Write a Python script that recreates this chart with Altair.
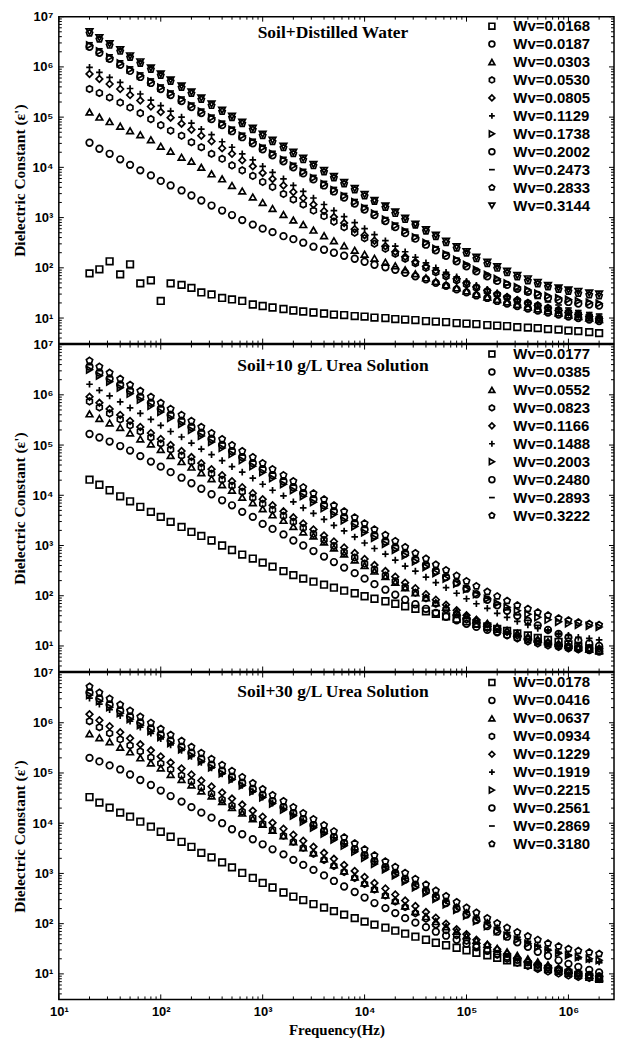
import altair as alt
import pandas as pd

# ---------------- data (log10 of dielectric constant) ----------------
FREQ_HZ = [20, 25, 31.5, 40, 50, 63, 80, 100, 125, 160,
           200, 250, 315, 400, 500, 630, 800, 1000, 1250, 1600,
           2000, 2500, 3150, 4000, 5000, 6300, 8000, 10000, 12500, 16000,
           20000, 25000, 31500, 40000, 50000, 63000, 80000, 100000, 125000, 160000,
           200000, 250000, 315000, 400000, 500000, 630000, 800000, 1000000, 1250000, 1600000,
           2000000]

# Panel 1: Soil + Distilled Water
DW_0168 = [1.89, 1.97, 2.13, 1.87, 2.07, 1.69, 1.75, 1.34, 1.69, 1.66, 1.60, 1.51, 1.47, 1.40, 1.37, 1.34, 1.27,
           1.24, 1.21, 1.18, 1.15, 1.13, 1.11, 1.09, 1.07, 1.06, 1.04, 1.03, 1.01, 1.00, 0.98, 0.97, 0.96, 0.94,
           0.93, 0.92, 0.90, 0.89, 0.88, 0.86, 0.85, 0.84, 0.82, 0.81, 0.80, 0.78, 0.77, 0.75, 0.74, 0.72, 0.70]
DW_0187 = [4.49, 4.37, 4.27, 4.16, 4.05, 3.94, 3.84, 3.73, 3.64, 3.54, 3.44, 3.34, 3.24, 3.14, 3.05, 2.95, 2.86,
           2.78, 2.71, 2.63, 2.57, 2.50, 2.42, 2.36, 2.30, 2.24, 2.18, 2.12, 2.06, 2.01, 1.96, 1.90, 1.83, 1.77,
           1.70, 1.64, 1.57, 1.51, 1.45, 1.40, 1.34, 1.29, 1.24, 1.19, 1.15, 1.11, 1.07, 1.03, 1.00, 0.97, 0.94]
DW_0303 = [5.10, 5.00, 4.91, 4.82, 4.73, 4.65, 4.55, 4.42, 4.32, 4.20, 4.12, 4.00, 3.87, 3.77, 3.64, 3.53, 3.41,
           3.30, 3.18, 3.06, 2.95, 2.86, 2.75, 2.64, 2.54, 2.44, 2.35, 2.27, 2.19, 2.11, 2.04, 1.96, 1.88, 1.80,
           1.73, 1.66, 1.60, 1.54, 1.48, 1.42, 1.37, 1.32, 1.27, 1.22, 1.18, 1.14, 1.10, 1.06, 1.03, 1.00, 0.97]
DW_0530 = [5.56, 5.48, 5.39, 5.29, 5.19, 5.08, 4.96, 4.84, 4.73, 4.63, 4.50, 4.40, 4.27, 4.17, 4.04, 3.94, 3.83,
           3.71, 3.61, 3.47, 3.36, 3.26, 3.14, 3.03, 2.92, 2.81, 2.70, 2.59, 2.48, 2.38, 2.28, 2.18, 2.09, 2.00,
           1.91, 1.83, 1.75, 1.67, 1.60, 1.53, 1.47, 1.41, 1.35, 1.30, 1.25, 1.20, 1.16, 1.12, 1.08, 1.04, 1.00]
DW_0805 = [5.86, 5.76, 5.66, 5.56, 5.44, 5.33, 5.21, 5.10, 4.99, 4.87, 4.75, 4.63, 4.52, 4.38, 4.27, 4.14, 4.02,
           3.89, 3.77, 3.64, 3.51, 3.39, 3.26, 3.13, 3.01, 2.89, 2.77, 2.65, 2.54, 2.43, 2.32, 2.22, 2.12, 2.03,
           1.94, 1.86, 1.78, 1.70, 1.62, 1.55, 1.48, 1.42, 1.36, 1.30, 1.25, 1.20, 1.15, 1.11, 1.07, 1.03, 0.99]
DW_1129 = [5.99, 5.89, 5.79, 5.69, 5.57, 5.46, 5.34, 5.23, 5.12, 5.00, 4.88, 4.76, 4.65, 4.51, 4.40, 4.27, 4.15,
           4.02, 3.90, 3.77, 3.64, 3.52, 3.39, 3.26, 3.14, 3.02, 2.90, 2.78, 2.66, 2.54, 2.43, 2.32, 2.21, 2.10,
           2.00, 1.91, 1.82, 1.73, 1.65, 1.57, 1.50, 1.43, 1.37, 1.31, 1.26, 1.21, 1.17, 1.12, 1.08, 1.05, 1.01]
DW_1738 = [6.43, 6.31, 6.19, 6.07, 5.95, 5.83, 5.71, 5.59, 5.47, 5.35, 5.23, 5.11, 4.99, 4.87, 4.75, 4.63, 4.51,
           4.39, 4.27, 4.15, 4.03, 3.91, 3.79, 3.67, 3.55, 3.43, 3.31, 3.19, 3.08, 2.96, 2.84, 2.73, 2.61, 2.50,
           2.38, 2.27, 2.16, 2.06, 1.96, 1.86, 1.78, 1.69, 1.62, 1.56, 1.49, 1.44, 1.40, 1.37, 1.34, 1.31, 1.29]
DW_2002 = [6.40, 6.28, 6.16, 6.04, 5.92, 5.80, 5.68, 5.56, 5.44, 5.32, 5.20, 5.08, 4.96, 4.84, 4.72, 4.60, 4.48,
           4.36, 4.24, 4.12, 4.00, 3.88, 3.76, 3.64, 3.52, 3.40, 3.28, 3.16, 3.05, 2.93, 2.81, 2.69, 2.58, 2.46,
           2.35, 2.24, 2.13, 2.03, 1.93, 1.83, 1.74, 1.66, 1.58, 1.52, 1.46, 1.40, 1.36, 1.32, 1.29, 1.27, 1.25]
DW_2473 = [6.48, 6.36, 6.24, 6.12, 6.00, 5.88, 5.76, 5.64, 5.52, 5.40, 5.28, 5.16, 5.04, 4.92, 4.80, 4.68, 4.56,
           4.44, 4.32, 4.20, 4.08, 3.96, 3.84, 3.72, 3.60, 3.48, 3.36, 3.24, 3.12, 3.00, 2.89, 2.77, 2.65, 2.53,
           2.42, 2.30, 2.19, 2.07, 1.96, 1.86, 1.75, 1.66, 1.56, 1.48, 1.39, 1.32, 1.26, 1.20, 1.15, 1.11, 1.08]
DW_2833 = [6.67, 6.55, 6.43, 6.31, 6.19, 6.07, 5.95, 5.83, 5.71, 5.59, 5.47, 5.35, 5.23, 5.11, 4.99, 4.87, 4.75,
           4.63, 4.51, 4.39, 4.27, 4.15, 4.03, 3.91, 3.79, 3.67, 3.55, 3.43, 3.32, 3.20, 3.08, 2.96, 2.85, 2.73,
           2.62, 2.50, 2.39, 2.29, 2.18, 2.08, 1.99, 1.90, 1.82, 1.74, 1.68, 1.62, 1.57, 1.53, 1.49, 1.46, 1.44]
DW_3144 = [6.70, 6.58, 6.46, 6.34, 6.22, 6.10, 5.98, 5.86, 5.74, 5.62, 5.50, 5.38, 5.26, 5.14, 5.02, 4.90, 4.78,
           4.66, 4.54, 4.42, 4.30, 4.18, 4.06, 3.94, 3.82, 3.70, 3.58, 3.46, 3.34, 3.23, 3.11, 2.99, 2.87, 2.76,
           2.65, 2.53, 2.42, 2.32, 2.21, 2.11, 2.02, 1.93, 1.85, 1.78, 1.71, 1.65, 1.60, 1.56, 1.53, 1.50, 1.48]

# Panel 2: Soil + 10 g/L Urea Solution
U10_0177 = [4.31, 4.21, 4.10, 3.98, 3.88, 3.77, 3.67, 3.57, 3.47, 3.37, 3.27, 3.19, 3.10, 3.00, 2.91, 2.82, 2.74,
            2.66, 2.58, 2.49, 2.41, 2.34, 2.28, 2.22, 2.16, 2.10, 2.05, 1.99, 1.94, 1.89, 1.84, 1.79, 1.74, 1.69,
            1.64, 1.59, 1.54, 1.49, 1.44, 1.39, 1.34, 1.30, 1.25, 1.21, 1.16, 1.12, 1.08, 1.03, 0.99, 0.95, 0.91]
U10_0385 = [5.22, 5.15, 5.07, 4.98, 4.89, 4.78, 4.67, 4.57, 4.46, 4.35, 4.24, 4.13, 4.02, 3.90, 3.80, 3.67, 3.57,
            3.43, 3.33, 3.22, 3.10, 3.00, 2.89, 2.78, 2.67, 2.56, 2.45, 2.34, 2.23, 2.12, 2.02, 1.92, 1.83, 1.74,
            1.66, 1.58, 1.51, 1.44, 1.38, 1.32, 1.27, 1.22, 1.17, 1.13, 1.09, 1.05, 1.01, 0.98, 0.95, 0.92, 0.89]
U10_0552 = [5.62, 5.53, 5.44, 5.35, 5.24, 5.12, 5.02, 4.91, 4.79, 4.67, 4.56, 4.45, 4.33, 4.21, 4.10, 3.96, 3.85,
            3.73, 3.61, 3.50, 3.38, 3.27, 3.19, 3.07, 2.95, 2.83, 2.71, 2.60, 2.49, 2.38, 2.27, 2.16, 2.06, 1.96,
            1.86, 1.77, 1.68, 1.60, 1.52, 1.45, 1.38, 1.31, 1.25, 1.19, 1.14, 1.09, 1.05, 1.01, 0.97, 0.94, 0.91]
U10_0823 = [5.87, 5.75, 5.63, 5.51, 5.39, 5.27, 5.15, 5.03, 4.91, 4.79, 4.67, 4.55, 4.43, 4.31, 4.19, 4.07, 3.95,
            3.83, 3.71, 3.59, 3.47, 3.35, 3.23, 3.11, 2.99, 2.87, 2.76, 2.64, 2.52, 2.40, 2.29, 2.17, 2.06, 1.95,
            1.84, 1.73, 1.63, 1.53, 1.44, 1.36, 1.28, 1.21, 1.15, 1.09, 1.05, 1.01, 0.98, 0.95, 0.93, 0.92, 0.90]
U10_1166 = [5.96, 5.84, 5.72, 5.60, 5.48, 5.36, 5.24, 5.12, 5.00, 4.88, 4.76, 4.64, 4.52, 4.40, 4.28, 4.16, 4.04,
            3.92, 3.80, 3.68, 3.56, 3.44, 3.32, 3.20, 3.08, 2.96, 2.85, 2.73, 2.61, 2.49, 2.38, 2.26, 2.15, 2.03,
            1.92, 1.82, 1.71, 1.61, 1.52, 1.43, 1.35, 1.28, 1.21, 1.15, 1.10, 1.06, 1.03, 1.00, 0.98, 0.96, 0.95]
U10_1488 = [6.21, 6.09, 5.98, 5.86, 5.74, 5.63, 5.51, 5.39, 5.27, 5.16, 5.04, 4.92, 4.81, 4.69, 4.57, 4.46, 4.34,
            4.22, 4.10, 3.99, 3.87, 3.75, 3.64, 3.52, 3.40, 3.29, 3.17, 3.05, 2.94, 2.83, 2.71, 2.59, 2.49, 2.37,
            2.26, 2.16, 2.05, 1.94, 1.84, 1.75, 1.65, 1.57, 1.49, 1.42, 1.35, 1.30, 1.25, 1.21, 1.17, 1.15, 1.12]
U10_2003 = [6.50, 6.38, 6.26, 6.14, 6.02, 5.90, 5.78, 5.66, 5.54, 5.42, 5.30, 5.18, 5.06, 4.94, 4.82, 4.70, 4.58,
            4.46, 4.34, 4.22, 4.10, 3.98, 3.86, 3.74, 3.62, 3.50, 3.38, 3.26, 3.15, 3.03, 2.91, 2.80, 2.68, 2.57,
            2.45, 2.34, 2.24, 2.13, 2.03, 1.94, 1.85, 1.77, 1.70, 1.63, 1.57, 1.52, 1.48, 1.45, 1.42, 1.40, 1.38]
U10_2480 = [6.56, 6.44, 6.32, 6.20, 6.08, 5.96, 5.84, 5.72, 5.60, 5.48, 5.36, 5.24, 5.12, 5.00, 4.88, 4.76, 4.64,
            4.52, 4.40, 4.28, 4.16, 4.04, 3.92, 3.80, 3.68, 3.56, 3.44, 3.32, 3.20, 3.08, 2.96, 2.84, 2.72, 2.61,
            2.49, 2.37, 2.26, 2.14, 2.03, 1.92, 1.81, 1.70, 1.60, 1.50, 1.41, 1.32, 1.24, 1.17, 1.11, 1.05, 1.00]
U10_2893 = [6.60, 6.48, 6.36, 6.24, 6.12, 6.00, 5.88, 5.76, 5.64, 5.52, 5.40, 5.28, 5.16, 5.04, 4.92, 4.80, 4.68,
            4.56, 4.44, 4.32, 4.20, 4.08, 3.96, 3.84, 3.72, 3.60, 3.48, 3.36, 3.24, 3.12, 3.00, 2.88, 2.76, 2.64,
            2.53, 2.41, 2.29, 2.18, 2.06, 1.95, 1.83, 1.72, 1.62, 1.51, 1.41, 1.32, 1.23, 1.15, 1.07, 1.01, 0.95]
U10_3222 = [6.68, 6.56, 6.44, 6.32, 6.20, 6.08, 5.96, 5.84, 5.72, 5.60, 5.48, 5.36, 5.24, 5.12, 5.00, 4.88, 4.76,
            4.64, 4.52, 4.40, 4.28, 4.16, 4.04, 3.92, 3.80, 3.68, 3.56, 3.44, 3.32, 3.21, 3.09, 2.97, 2.85, 2.74,
            2.62, 2.51, 2.40, 2.29, 2.19, 2.08, 1.99, 1.90, 1.81, 1.74, 1.67, 1.61, 1.55, 1.51, 1.47, 1.44, 1.42]

# Panel 3: Soil + 30 g/L Urea Solution
U30_0178 = [4.52, 4.41, 4.31, 4.21, 4.13, 4.03, 3.93, 3.83, 3.73, 3.63, 3.53, 3.41, 3.32, 3.22, 3.12, 3.01, 2.91,
            2.81, 2.72, 2.62, 2.54, 2.47, 2.39, 2.32, 2.25, 2.18, 2.11, 2.04, 1.98, 1.92, 1.86, 1.80, 1.74, 1.68,
            1.62, 1.57, 1.52, 1.47, 1.42, 1.37, 1.32, 1.27, 1.23, 1.18, 1.14, 1.10, 1.06, 1.02, 0.98, 0.94, 0.90]
U30_0416 = [5.30, 5.23, 5.15, 5.07, 4.97, 4.86, 4.76, 4.65, 4.54, 4.43, 4.32, 4.21, 4.11, 4.00, 3.88, 3.78, 3.68,
            3.58, 3.48, 3.38, 3.27, 3.17, 3.07, 2.96, 2.85, 2.74, 2.63, 2.52, 2.41, 2.31, 2.21, 2.11, 2.02, 1.93,
            1.84, 1.76, 1.68, 1.60, 1.53, 1.46, 1.40, 1.34, 1.28, 1.23, 1.18, 1.13, 1.09, 1.05, 1.01, 0.98, 0.95]
U30_0637 = [5.78, 5.70, 5.62, 5.51, 5.42, 5.30, 5.20, 5.10, 4.97, 4.87, 4.76, 4.64, 4.54, 4.43, 4.31, 4.20, 4.09,
            3.98, 3.86, 3.75, 3.63, 3.51, 3.41, 3.29, 3.17, 3.05, 2.93, 2.81, 2.69, 2.57, 2.46, 2.35, 2.24, 2.14,
            2.04, 1.94, 1.85, 1.76, 1.67, 1.59, 1.51, 1.44, 1.37, 1.30, 1.24, 1.18, 1.12, 1.07, 1.02, 0.97, 0.92]
U30_0934 = [6.03, 5.91, 5.79, 5.67, 5.55, 5.43, 5.31, 5.19, 5.07, 4.95, 4.83, 4.71, 4.59, 4.47, 4.35, 4.23, 4.11,
            3.99, 3.87, 3.75, 3.63, 3.51, 3.39, 3.27, 3.15, 3.03, 2.91, 2.79, 2.68, 2.56, 2.44, 2.33, 2.21, 2.10,
            1.98, 1.87, 1.77, 1.66, 1.56, 1.47, 1.38, 1.30, 1.22, 1.16, 1.10, 1.05, 1.01, 0.97, 0.94, 0.92, 0.90]
U30_1229 = [6.17, 6.05, 5.93, 5.81, 5.69, 5.57, 5.45, 5.33, 5.21, 5.09, 4.97, 4.85, 4.73, 4.61, 4.49, 4.37, 4.25,
            4.13, 4.01, 3.89, 3.77, 3.65, 3.53, 3.41, 3.29, 3.17, 3.05, 2.93, 2.81, 2.70, 2.58, 2.46, 2.35, 2.23,
            2.12, 2.00, 1.89, 1.79, 1.68, 1.58, 1.49, 1.40, 1.32, 1.25, 1.18, 1.12, 1.07, 1.03, 1.00, 0.97, 0.95]
U30_1919 = [6.49, 6.37, 6.26, 6.14, 6.03, 5.91, 5.79, 5.68, 5.56, 5.45, 5.33, 5.21, 5.10, 4.98, 4.87, 4.75, 4.63,
            4.52, 4.40, 4.29, 4.17, 4.05, 3.94, 3.82, 3.71, 3.59, 3.47, 3.36, 3.24, 3.13, 3.02, 2.90, 2.79, 2.67,
            2.57, 2.45, 2.34, 2.23, 2.12, 2.03, 1.92, 1.82, 1.73, 1.65, 1.57, 1.49, 1.43, 1.38, 1.32, 1.28, 1.24]
U30_2215 = [6.55, 6.43, 6.31, 6.19, 6.07, 5.95, 5.83, 5.71, 5.59, 5.47, 5.35, 5.23, 5.11, 4.99, 4.87, 4.75, 4.63,
            4.51, 4.39, 4.27, 4.15, 4.03, 3.91, 3.79, 3.67, 3.55, 3.43, 3.31, 3.19, 3.08, 2.96, 2.84, 2.72, 2.61,
            2.49, 2.38, 2.27, 2.16, 2.05, 1.95, 1.85, 1.76, 1.68, 1.60, 1.53, 1.47, 1.41, 1.37, 1.33, 1.30, 1.27]
U30_2561 = [6.60, 6.48, 6.36, 6.24, 6.12, 6.00, 5.88, 5.76, 5.64, 5.52, 5.40, 5.28, 5.16, 5.04, 4.92, 4.80, 4.68,
            4.56, 4.44, 4.32, 4.20, 4.08, 3.96, 3.84, 3.72, 3.60, 3.48, 3.36, 3.24, 3.12, 3.00, 2.88, 2.76, 2.65,
            2.53, 2.41, 2.30, 2.18, 2.07, 1.95, 1.84, 1.74, 1.63, 1.54, 1.44, 1.36, 1.27, 1.20, 1.14, 1.08, 1.03]
U30_2869 = [6.65, 6.53, 6.41, 6.29, 6.17, 6.05, 5.93, 5.81, 5.69, 5.57, 5.45, 5.33, 5.21, 5.09, 4.97, 4.85, 4.73,
            4.61, 4.49, 4.37, 4.25, 4.13, 4.01, 3.89, 3.77, 3.65, 3.53, 3.41, 3.29, 3.17, 3.05, 2.94, 2.82, 2.70,
            2.58, 2.47, 2.35, 2.24, 2.13, 2.02, 1.92, 1.82, 1.72, 1.63, 1.55, 1.47, 1.41, 1.35, 1.30, 1.25, 1.22]
U30_3180 = [6.72, 6.60, 6.48, 6.36, 6.24, 6.12, 6.00, 5.88, 5.76, 5.64, 5.52, 5.40, 5.28, 5.16, 5.04, 4.92, 4.80,
            4.68, 4.56, 4.44, 4.32, 4.20, 4.08, 3.96, 3.84, 3.72, 3.60, 3.48, 3.36, 3.24, 3.13, 3.01, 2.89, 2.78,
            2.66, 2.55, 2.43, 2.32, 2.22, 2.11, 2.01, 1.92, 1.83, 1.75, 1.68, 1.61, 1.55, 1.50, 1.46, 1.43, 1.40]

DW_LABELS = ["Wv=0.0168", "Wv=0.0187", "Wv=0.0303", "Wv=0.0530", "Wv=0.0805", "Wv=0.1129",
             "Wv=0.1738", "Wv=0.2002", "Wv=0.2473", "Wv=0.2833", "Wv=0.3144"]
U10_LABELS = ["Wv=0.0177", "Wv=0.0385", "Wv=0.0552", "Wv=0.0823", "Wv=0.1166", "Wv=0.1488",
              "Wv=0.2003", "Wv=0.2480", "Wv=0.2893", "Wv=0.3222"]
U30_LABELS = ["Wv=0.0178", "Wv=0.0416", "Wv=0.0637", "Wv=0.0934", "Wv=0.1229", "Wv=0.1919",
              "Wv=0.2215", "Wv=0.2561", "Wv=0.2869", "Wv=0.3180"]

DW_SERIES = [DW_0168, DW_0187, DW_0303, DW_0530, DW_0805, DW_1129, DW_1738, DW_2002, DW_2473, DW_2833, DW_3144]
U10_SERIES = [U10_0177, U10_0385, U10_0552, U10_0823, U10_1166, U10_1488, U10_2003, U10_2480, U10_2893, U10_3222]
U30_SERIES = [U30_0178, U30_0416, U30_0637, U30_0934, U30_1229, U30_1919, U30_2215, U30_2561, U30_2869, U30_3180]

# ---------------- styling ----------------
HEXAGON = "M0,-1L0.866,-0.5L0.866,0.5L0,1L-0.866,0.5L-0.866,-0.5Z"
PENTAGON = "M0,-1L0.951,-0.309L0.588,0.809L-0.588,0.809L-0.951,-0.309Z"
PLUS = "M-1,0L1,0M0,-1L0,1"
SHAPES = ["square", "circle", "triangle-up", HEXAGON, "diamond", PLUS,
          "triangle-right", "circle", "stroke", PENTAGON, "triangle-down"]

W, H = 557, 328
XDOM = [10, 2.8e6]
YDOM = [3.1, 1e7]
xs = alt.Scale(type="log", domain=XDOM, nice=False)
ys = alt.Scale(type="log", domain=YDOM, nice=False)

SUP = "['\u2070','\u00b9','\u00b2','\u00b3','\u2074','\u2075','\u2076','\u2077']"
LABEL_EXPR = "'10' + " + SUP + "[round(log(datum.value)/LN10)]"

Y_MAJOR = [10 ** n for n in range(1, 8)]
Y_MINOR = [m * 10 ** n for n in range(0, 7) for m in range(2, 10) if YDOM[0] <= m * 10 ** n <= YDOM[1]]
X_MAJOR = [10 ** n for n in range(1, 7)]
X_MINOR = [m * 10 ** n for n in range(1, 7) for m in range(2, 10) if m * 10 ** n <= XDOM[1]]

y_axis = alt.Axis(values=Y_MAJOR, labelExpr=LABEL_EXPR, title="Dielectric Constant (\u03b5')",
                  titlePadding=5, labelPadding=6, titleFontSize=15.5)


def x_axis(show):
    if not show:
        return None
    return alt.Axis(values=X_MAJOR, labelExpr=LABEL_EXPR, labelFlush=False, labelPadding=6,
                    title="Frequency(Hz)", titlePadding=4)


def panel(labels, series, title, title_y, legend_y, show_x):
    rows = []
    for name, logs in zip(labels, series):
        for f, lv in zip(FREQ_HZ, logs):
            rows.append({"freq": f, "eps": 10 ** lv, "series": name})
    df = pd.DataFrame(rows)
    xa = x_axis(show_x)

    pts = alt.Chart(df).mark_point(filled=False, color="black", size=44, strokeWidth=1.7, opacity=1).encode(
        x=alt.X("freq:Q", scale=xs, axis=xa),
        y=alt.Y("eps:Q", scale=ys, axis=y_axis),
        shape=alt.Shape("series:N", scale=alt.Scale(domain=labels, range=SHAPES[:len(labels)]),
                        legend=alt.Legend(title=None, orient="none", legendX=427, legendY=legend_y,
                                          labelFont="Liberation Sans", labelFontWeight="bold",
                                          labelFontSize=15, labelColor="black", symbolSize=34,
                                          symbolStrokeWidth=1.7, symbolStrokeColor="black",
                                          rowPadding=2, labelOffset=14, padding=0)),
    )

    ymaj = pd.DataFrame({"v": Y_MAJOR})
    ymin = pd.DataFrame({"v": Y_MINOR})
    xmaj = pd.DataFrame({"v": X_MAJOR})
    xmin = pd.DataFrame({"v": X_MINOR})

    def yr(d, a, b):
        return alt.Chart(d).mark_rule(color="black", strokeWidth=1).encode(
            y=alt.Y("v:Q", scale=ys, axis=y_axis), x=alt.value(a), x2=alt.value(b))

    def xr(d, a, b):
        return alt.Chart(d).mark_rule(color="black", strokeWidth=1).encode(
            x=alt.X("v:Q", scale=xs, axis=xa), y=alt.value(a), y2=alt.value(b))

    rules = [yr(ymaj, 0, 5), yr(ymin, 0, 3), yr(ymaj, W, W - 5), yr(ymin, W, W - 3),
             xr(xmaj, 0, 5), xr(xmin, 0, 3), xr(xmaj, H, H - 5), xr(xmin, H, H - 3)]

    txt = alt.Chart(pd.DataFrame({"t": [title]})).mark_text(
        font="Liberation Serif", fontWeight="bold", fontSize=17.5, color="black").encode(
        text="t:N", x=alt.value(275), y=alt.value(title_y))

    return alt.layer(pts, *rules, txt).properties(width=W, height=H)


p1 = panel(DW_LABELS, DW_SERIES, "Soil+Distilled Water", 16, 2, False)
p2 = panel(U10_LABELS, U10_SERIES, "Soil+10 g/L Urea Solution", 21.5, 2, False)
p3 = panel(U30_LABELS, U30_SERIES, "Soil+30 g/L Urea Solution", 19.5, 2.5, True)

chart = alt.vconcat(p1, p2, p3, spacing=1, bounds="flush").resolve_scale(
    shape="independent").resolve_legend(shape="independent").properties(
    padding={"left": 3, "top": 0, "right": 0, "bottom": 0}
).configure_view(stroke="black", strokeWidth=1.5).configure_axis(
    domain=False, ticks=False, grid=False,
    labelFont="Liberation Sans", labelFontWeight="bold", labelFontSize=13, labelColor="black",
    titleFont="Liberation Serif", titleFontWeight="bold", titleFontSize=15, titleColor="black")

chart.save("out.html", embed_options={"renderer": "svg", "actions": False})
